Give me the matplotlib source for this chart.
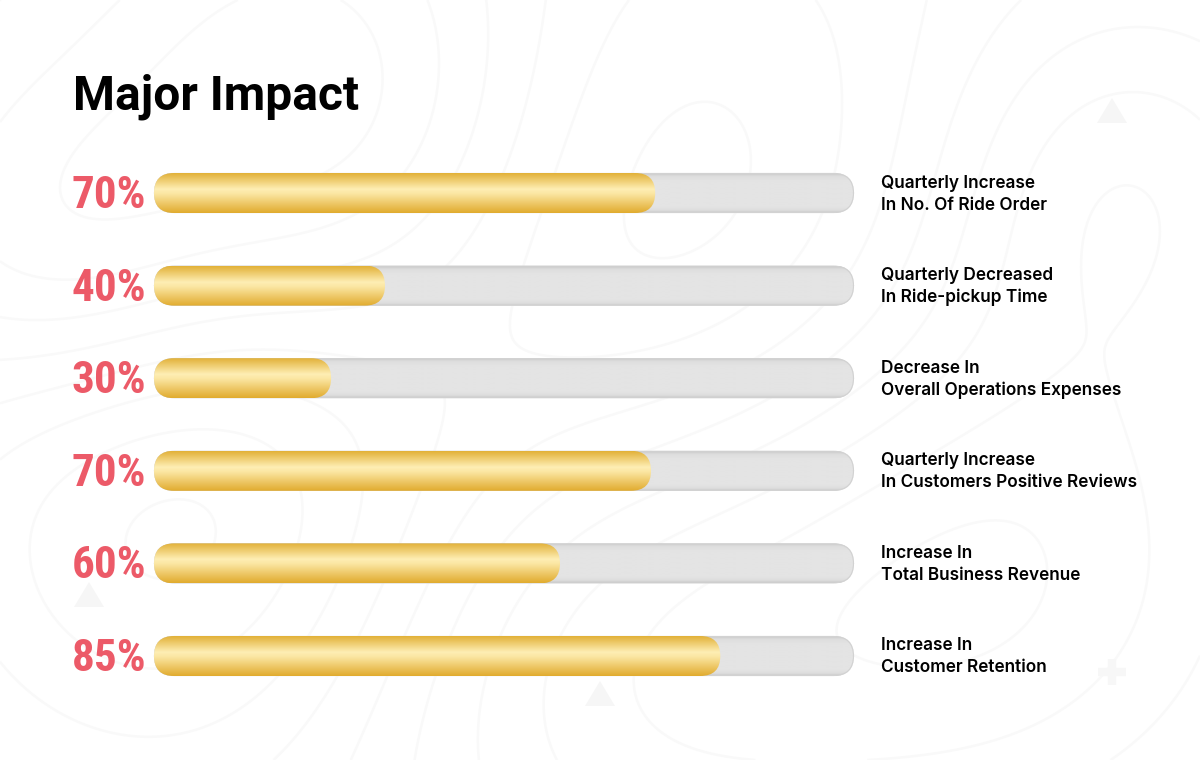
import numpy as np
import matplotlib
matplotlib.use("Agg")
import matplotlib.pyplot as plt
from matplotlib import font_manager as fm
from matplotlib.patches import FancyBboxPatch, Polygon
from matplotlib.colors import LinearSegmentedColormap

title = "Major Impact"
pct_labels = ["70%", "40%", "30%", "70%", "60%", "85%"]
fill_values = [71.6, 33.0, 25.3, 71.0, 58.0, 80.9]
desc_line1 = ["Quarterly Increase", "Quarterly Decreased", "Decrease In",
              "Quarterly Increase", "Increase In", "Increase In"]
desc_line2 = ["In No. Of Ride Order", "In Ride-pickup Time", "Overall Operations Expenses",
              "In Customers Positive Reviews", "Total Business Revenue", "Customer Retention"]

W, H = 1200, 760
fig = plt.figure(figsize=(W / 100, H / 100), dpi=100, facecolor="white")

# full-figure background
bg = fig.add_axes([0, 0, 1, 1], zorder=0)
bg.set_xlim(0, W); bg.set_ylim(H, 0); bg.axis("off")
xx, yy = np.meshgrid(np.linspace(0, W, 400), np.linspace(0, H, 260))
centres = [(330, 120, 170, 1.0), (640, 250, 230, -0.8), (1000, 560, 210, 1.0),
           (180, 520, 190, -1.0), (620, 640, 200, 0.8), (1120, 180, 140, 0.7), (60, 250, 120, .6)]
field = sum(a * np.exp(-((xx - cx) ** 2 + (yy - cy) ** 2) / (2 * s ** 2)) for cx, cy, s, a in centres)
bg.contour(xx, yy, field, levels=np.linspace(-0.9, 1.0, 10), colors="#f9f9f9", linewidths=1.8, linestyles="solid")
for tri in [[(1097, 123), (1127, 123), (1112, 98)], [(74, 607), (104, 607), (89, 582)],
            [(585, 706), (615, 706), (600, 681)]]:
    bg.add_patch(Polygon(tri, closed=True, fc="#f6f6f6", ec="none"))
bg.plot([1098, 1126], [672, 672], color="#f7f7f7", lw=6, solid_capstyle="butt")
bg.plot([1112, 1112], [659, 685], color="#f7f7f7", lw=6, solid_capstyle="butt")

# bars
ax = fig.add_axes([154 / W, 1 - 686 / H, 700 / W, (686 - 163) / H], zorder=1)
step_px = 92.6
asp = 7 / step_px
r = 20 / 7
hh = 20 / step_px

track_cm = LinearSegmentedColormap.from_list("t", [(0, "#c9c9c9"), (0.08, "#dedede"), (0.2, "#e4e4e4"),
                                                    (0.85, "#e4e4e4"), (0.94, "#dcdcdc"), (1, "#c6c6c6")])
gold_cm = LinearSegmentedColormap.from_list("g", [(0, "#e2b138"), (0.4, "#feeeb4"), (0.52, "#fbe6a2"), (1, "#e1ab2e")])
grad = np.linspace(0, 1, 128).reshape(-1, 1)

def rbar(y, v, cm, z):
    patch = FancyBboxPatch((0, y - hh), v, 2 * hh, boxstyle=f"round,pad=0,rounding_size={r}",
                           mutation_aspect=asp, fc="none", ec="none", transform=ax.transData)
    ax.add_patch(patch)
    im = ax.imshow(grad, cmap=cm, vmin=0, vmax=1, extent=(0, v, y + hh, y - hh), aspect="auto", zorder=z)
    im.set_clip_path(patch)

for i, v in enumerate(fill_values):
    rbar(i, 100, track_cm, 2)
    ax.add_patch(FancyBboxPatch((0.07, i - hh + 0.005), 99.86, 2 * hh - 0.01,
                                boxstyle=f"round,pad=0,rounding_size={r}",
                                mutation_aspect=asp, fc="none", ec="#d2d2d2", lw=0.8, zorder=2.5, clip_on=False))
    rbar(i, v, gold_cm, 3)
ax.set_xlim(0, 100)
ax.set_ylim((686 - 193) / step_px, -(193 - 163) / step_px)
ax.axis("off")

# text
tx = fig.add_axes([0, 0, 1, 1], zorder=2)
tx.set_xlim(0, W); tx.set_ylim(H, 0); tx.axis("off")
tx.text(73, 97, title, family="Roboto", weight="bold", fontsize=34.5, color="black", va="center", ha="left")

def has_font(name):
    try:
        fm.findfont(name, fallback_to_default=False)
        return True
    except ValueError:
        return False

pct_font = dict(family="Roboto", fontsize=29)
for cand, size in [("Roboto Condensed", 32.5), ("Liberation Sans Narrow", 35), ("Open Sans Condensed", 32.5)]:
    if has_font(cand):
        pct_font = dict(family=cand, fontsize=size)
        break

for i, (p, a, b) in enumerate(zip(pct_labels, desc_line1, desc_line2)):
    yc = 193 + i * step_px
    tx.text(71.5, yc + 3, p, weight="bold", color="#ec5a68", va="center", ha="left", **pct_font)
    tx.text(881, yc - 10, a, family="Inter", weight="semibold", fontsize=12.4, color="black", va="center", ha="left")
    tx.text(881, yc + 12, b, family="Inter", weight="semibold", fontsize=12.4, color="black", va="center", ha="left")

fig.savefig("out.png", dpi=100, facecolor="white")
